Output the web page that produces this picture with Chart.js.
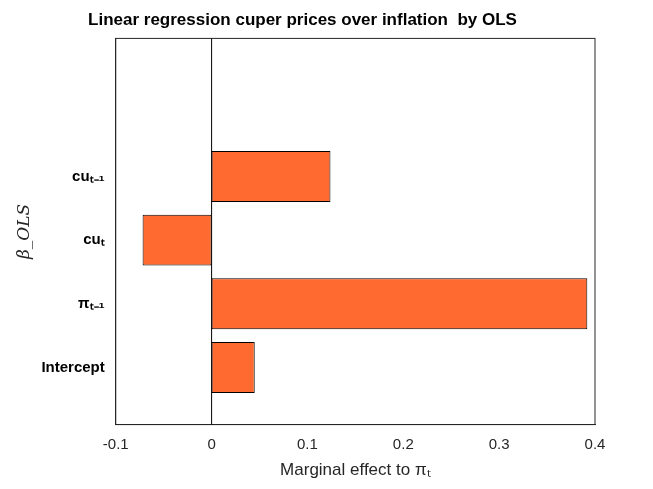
<!DOCTYPE html>
<html>
<head>
<meta charset="UTF-8">
<script src="https://cdn.jsdelivr.net/npm/chart.js"></script>
<style>body{margin:0;background:#fff}</style>
</head>
<body>
<canvas id="c" width="653" height="489"></canvas>
<script>
const categories = ['Intercept', 'πₜ₋₁', 'cuₜ', 'cuₜ₋₁'];
const positions = [1, 2, 3, 4];
const effects = [0.045, 0.392, -0.072, 0.124];
const xTicks = [-0.1, 0, 0.1, 0.2, 0.3, 0.4];

const frame = {
  id: 'frame',
  afterDraw(chart) {
    const a = chart.chartArea, ctx = chart.ctx;
    ctx.save();
    ctx.strokeStyle = '#262626';
    ctx.lineWidth = 1;
    ctx.strokeRect(a.left, a.top, a.right - a.left, a.bottom - a.top);
    const x0 = chart.scales.x.getPixelForValue(0);
    ctx.strokeStyle = '#000';
    ctx.beginPath(); ctx.moveTo(x0, a.top); ctx.lineTo(x0, a.bottom); ctx.stroke();
    ctx.restore();
  }
};

new Chart(document.getElementById('c'), {
  type: 'bar',
  data: {
    datasets: [{
      data: positions.map((p, i) => ({ x: effects[i], y: p })),
      backgroundColor: '#FF6A30',
      borderColor: '#000',
      borderWidth: 1,
      borderSkipped: false,
      barPercentage: 0.8,
      categoryPercentage: 1
    }]
  },
  options: {
    indexAxis: 'y',
    responsive: false,
    animation: false,
    layout: { padding: { left: 10, right: 58, top: 0, bottom: 4 } },
    plugins: {
      legend: { display: false },
      tooltip: { enabled: false },
      title: { display: true, text: 'Linear regression cuper prices over inflation  by OLS',
        color: '#000', font: { family: 'Arial, Liberation Sans', size: 17, weight: 'bold' },
        padding: { top: 10, bottom: 8 } }
    },
    scales: {
      x: {
        type: 'linear', min: -0.1, max: 0.4,
        afterBuildTicks: s => { s.ticks = xTicks.map(v => ({ value: v })); },
        ticks: { color: '#262626', font: { family: 'Arial, Liberation Sans', size: 15 },
          callback: v => (Math.abs(v) < 1e-9 ? '0' : String(Math.round(v * 10) / 10)) },
        grid: { display: false },
        border: { color: '#262626' },
        title: { display: true, text: 'Marginal effect to πₜ', color: '#262626',
          font: { family: 'Arial, Liberation Sans', size: 17 } }
      },
      y: {
        type: 'linear', min: 0.86, max: 5.41,
        afterBuildTicks: s => { s.ticks = positions.map(v => ({ value: v })); },
        ticks: { color: '#000', font: { family: 'Arial, Liberation Sans', size: 15, weight: 'bold' },
          callback: v => categories[positions.indexOf(v)] || '' },
        grid: { display: false },
        border: { color: '#262626' },
        title: { display: true, text: 'β_OLS', color: '#262626',
          font: { family: 'DejaVu Serif', size: 17, style: 'italic' } }
      }
    }
  },
  plugins: [frame]
});
</script>
</body>
</html>
